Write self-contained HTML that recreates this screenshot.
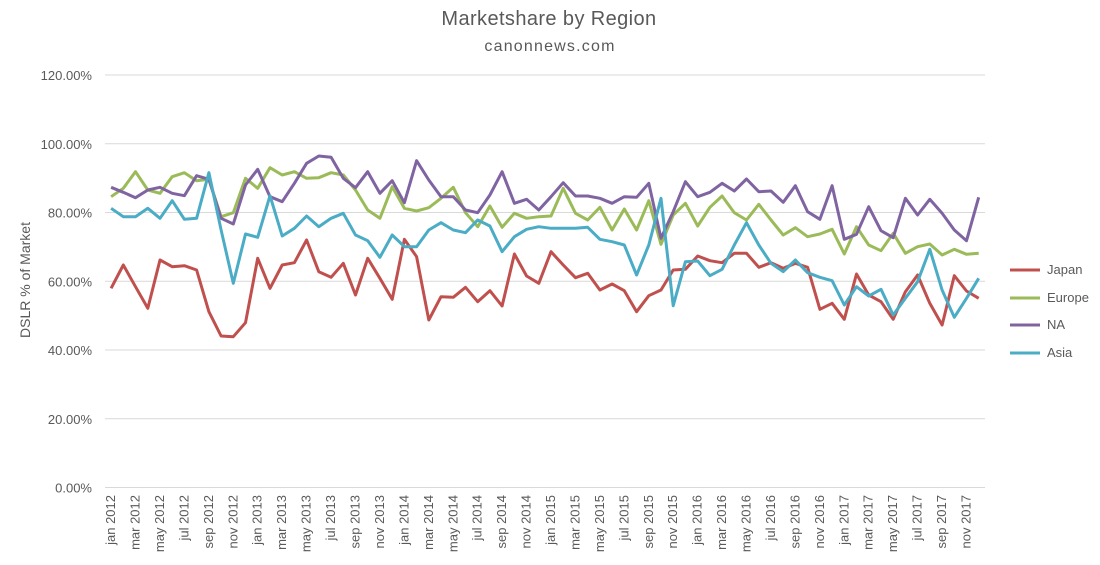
<!DOCTYPE html>
<html><head><meta charset="utf-8"><style>
body{margin:0;background:#fff;}
svg text{font-family:"Liberation Sans",sans-serif;fill:#595959;}
</style></head><body>
<svg id="c" width="1100" height="560" xmlns="http://www.w3.org/2000/svg">
<rect width="1100" height="560" fill="#fff"/>
<text x="549" y="25" font-size="20" text-anchor="middle" letter-spacing="0.4">Marketshare by Region</text>
<text x="550" y="51" font-size="16" text-anchor="middle" letter-spacing="1.2">canonnews.com</text>
<g id="grid"></g>
<text transform="translate(30,280) rotate(-90)" font-size="14" text-anchor="middle">DSLR % of Market</text>
<g id="series" fill="none" stroke-width="3" stroke-linejoin="round"></g>
<g font-size="13">
<line x1="1010" y1="270" x2="1040" y2="270" stroke="#C0504D" stroke-width="3"/><text x="1047" y="274">Japan</text>
<line x1="1010" y1="298" x2="1040" y2="298" stroke="#9BBB59" stroke-width="3"/><text x="1047" y="302">Europe</text>
<line x1="1010" y1="325" x2="1040" y2="325" stroke="#8064A2" stroke-width="3"/><text x="1047" y="329">NA</text>
<line x1="1010" y1="353" x2="1040" y2="353" stroke="#4BACC6" stroke-width="3"/><text x="1047" y="357">Asia</text>
</g>
</svg>
<script>
var g=document.getElementById('grid'),h='';
for(var k=0;k<=6;k++){var y=487.5-k*68.75;
h+='<line x1="105" x2="985" y1="'+y+'" y2="'+y+'" stroke="#d9d9d9" stroke-width="1"/>';
h+='<text x="92" y="'+(y+5)+'" font-size="13" text-anchor="end">'+(k*20)+'.00%</text>';}
var m=['jan','mar','may','jul','sep','nov'];
for(var i=0;i<72;i+=2){var x=111.1+12.22*i+4;var lab=m[(i%12)/2]+' '+(2012+Math.floor(i/12));
h+='<text transform="translate('+x+',495) rotate(-90)" font-size="13" text-anchor="end">'+lab+'</text>';}
g.innerHTML=h;
var D={
"#C0504D":[475,405,470,535,390,410,407,420,545,618,620,578,385,475,405,398,330,425,442,400,495,385,445,508,328,380,570,500,502,472,515,482,528,372,438,460,365,405,443,430,480,462,482,545,497,480,420,418,378,392,398,370,370,412,398,415,400,412,538,520,568,432,495,515,568,485,435,520,585,437,483,505],
"#9BBB59":[200,175,125,180,190,140,128,152,148,260,248,145,175,113,135,125,145,143,128,135,180,240,265,170,235,243,233,205,172,248,290,228,292,250,265,260,258,175,250,270,232,300,237,300,212,343,255,220,288,232,198,248,270,223,270,315,293,320,312,298,372,290,345,362,310,370,350,342,375,358,373,370],
"#8064A2":[172,187,203,180,172,190,197,137,148,265,282,165,118,200,215,160,100,78,82,145,173,125,190,152,218,92,150,200,200,240,248,195,125,220,208,240,200,158,198,198,205,220,200,202,160,325,245,155,200,187,160,183,147,185,183,217,167,245,268,167,328,313,230,302,323,205,255,208,250,300,332,202],
"#4BACC6":[235,260,260,235,265,212,268,265,128,300,460,312,322,197,318,295,258,290,265,250,315,332,382,315,350,350,300,278,300,308,270,288,365,320,298,290,295,295,295,292,328,335,345,435,345,205,527,395,393,437,418,345,278,345,400,425,390,428,442,452,525,470,498,478,555,505,455,358,480,562,505,445]};
var s='';
for(var c in D){var p=D[c].map(function(v,i){return (111.1+12.22*i).toFixed(1)+','+(130+v/3).toFixed(1);}).join(' ');
s+='<polyline points="'+p+'" stroke="'+c+'"/>';}
document.getElementById('series').innerHTML=s;
</script>
</body></html>
